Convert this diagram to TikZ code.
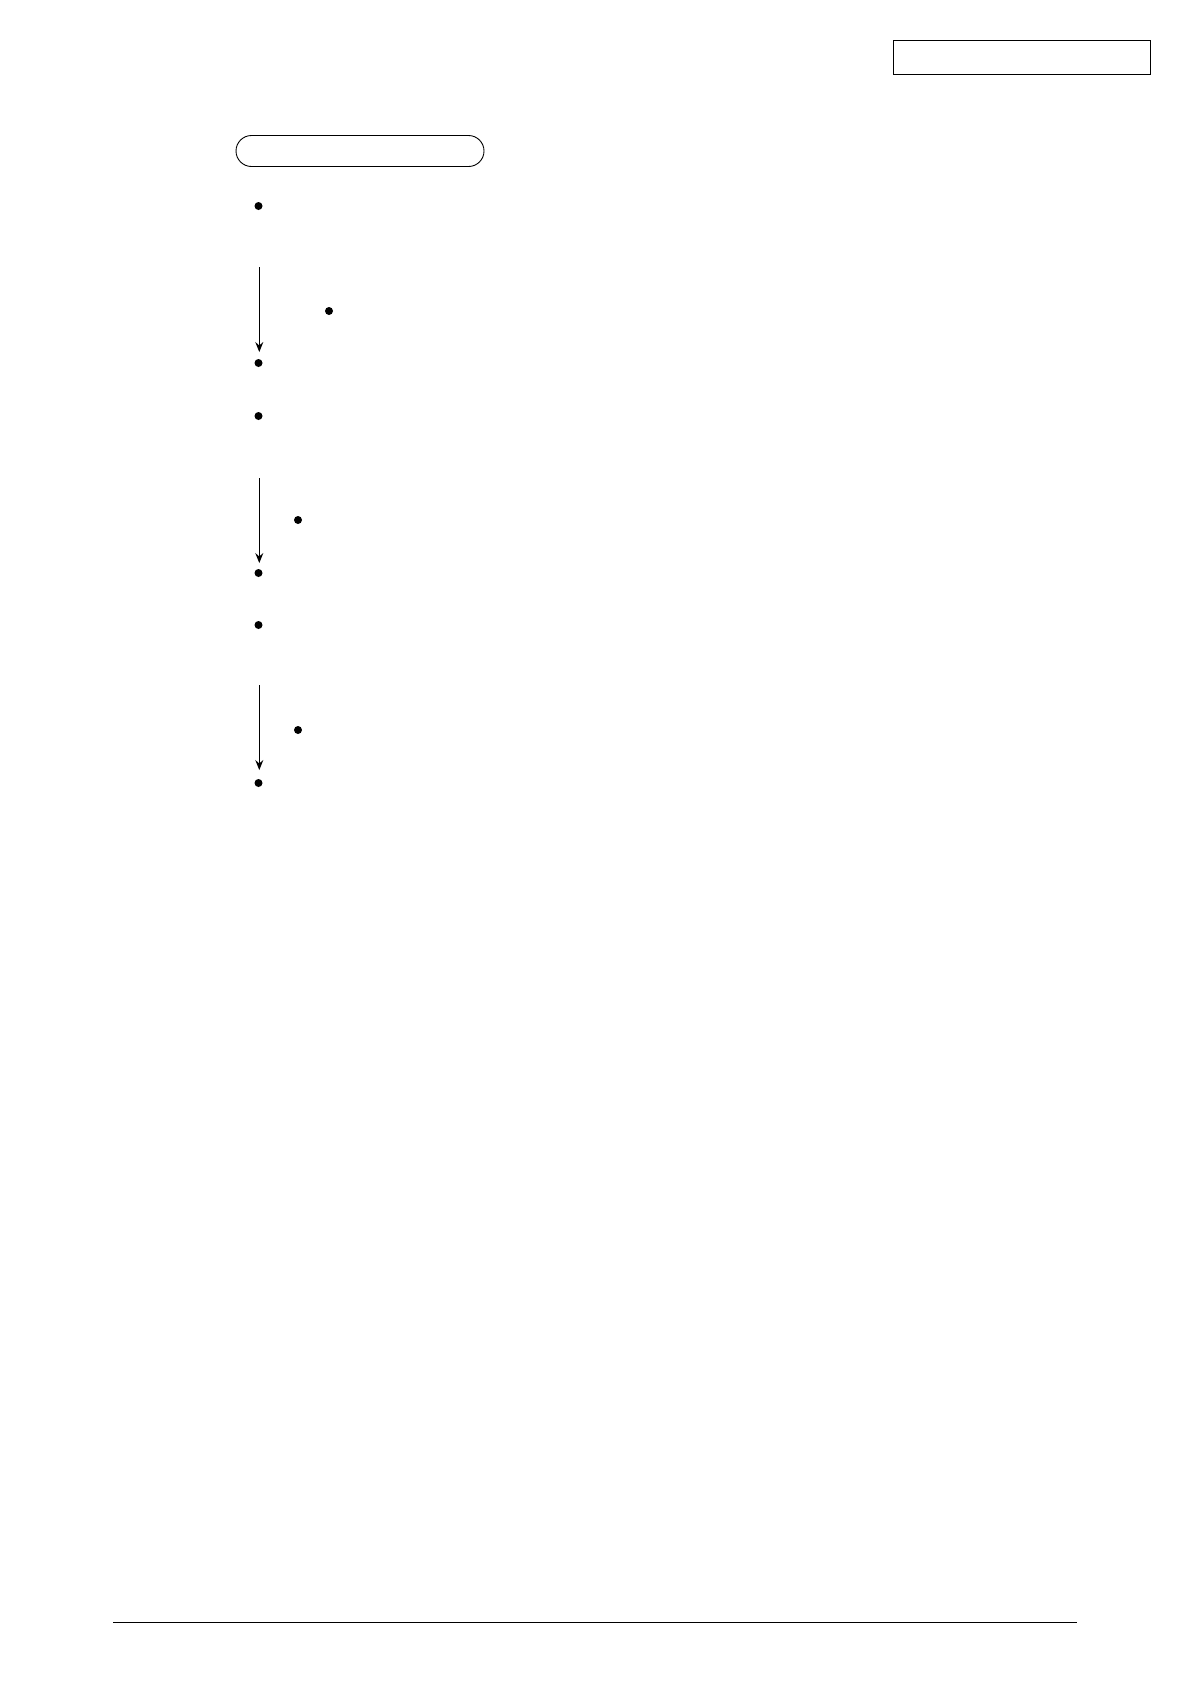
\documentclass[tikz,border=0pt]{standalone}
\usetikzlibrary{arrows.meta}
\begin{document}
\begin{tikzpicture}
    [x=1pt,y=-1pt,inner sep=0pt,
     dot/.style={circle,fill,minimum size=8pt},
     tag/.style={draw,line width=1pt,minimum width=257pt,minimum height=34pt},
     title/.style={draw,line width=0.9pt,rounded corners=15.5pt,minimum width=248pt,minimum height=31pt},
     flow/.style={-{Stealth[length=10pt,width=8pt,inset=3.5pt]},line width=0.9pt}]
    \useasboundingbox (0,0) rectangle (1190,1684);
    \node (tag) at (1021.5, 57) [tag] {};
    \node (title) at (360, 151) [title] {};
    \node (d1) at (258.5, 206) [dot] {};
    \node (s1) at (329, 311) [dot] {};
    \node (d2) at (258.5, 363) [dot] {};
    \node (d3) at (258.5, 416) [dot] {};
    \node (s2) at (298, 520) [dot] {};
    \node (d4) at (258.5, 573) [dot] {};
    \node (d5) at (258.5, 625) [dot] {};
    \node (s3) at (298, 730) [dot] {};
    \node (d6) at (258.5, 783) [dot] {};
    \coordinate (a1) at (259.3, 267);
    \coordinate (b1) at (259.3, 352);
    \coordinate (a2) at (259.3, 478);
    \coordinate (b2) at (259.3, 563);
    \coordinate (a3) at (259.3, 685);
    \coordinate (b3) at (259.3, 770);
    \coordinate (foot1) at (113, 1622);
    \coordinate (foot2) at (1077, 1622);
    \draw [flow] (a1) to (b1);
    \draw [flow] (a2) to (b2);
    \draw [flow] (a3) to (b3);
    \draw [line width=1pt] (foot1) to (foot2);
  \end{tikzpicture}
\end{document}
